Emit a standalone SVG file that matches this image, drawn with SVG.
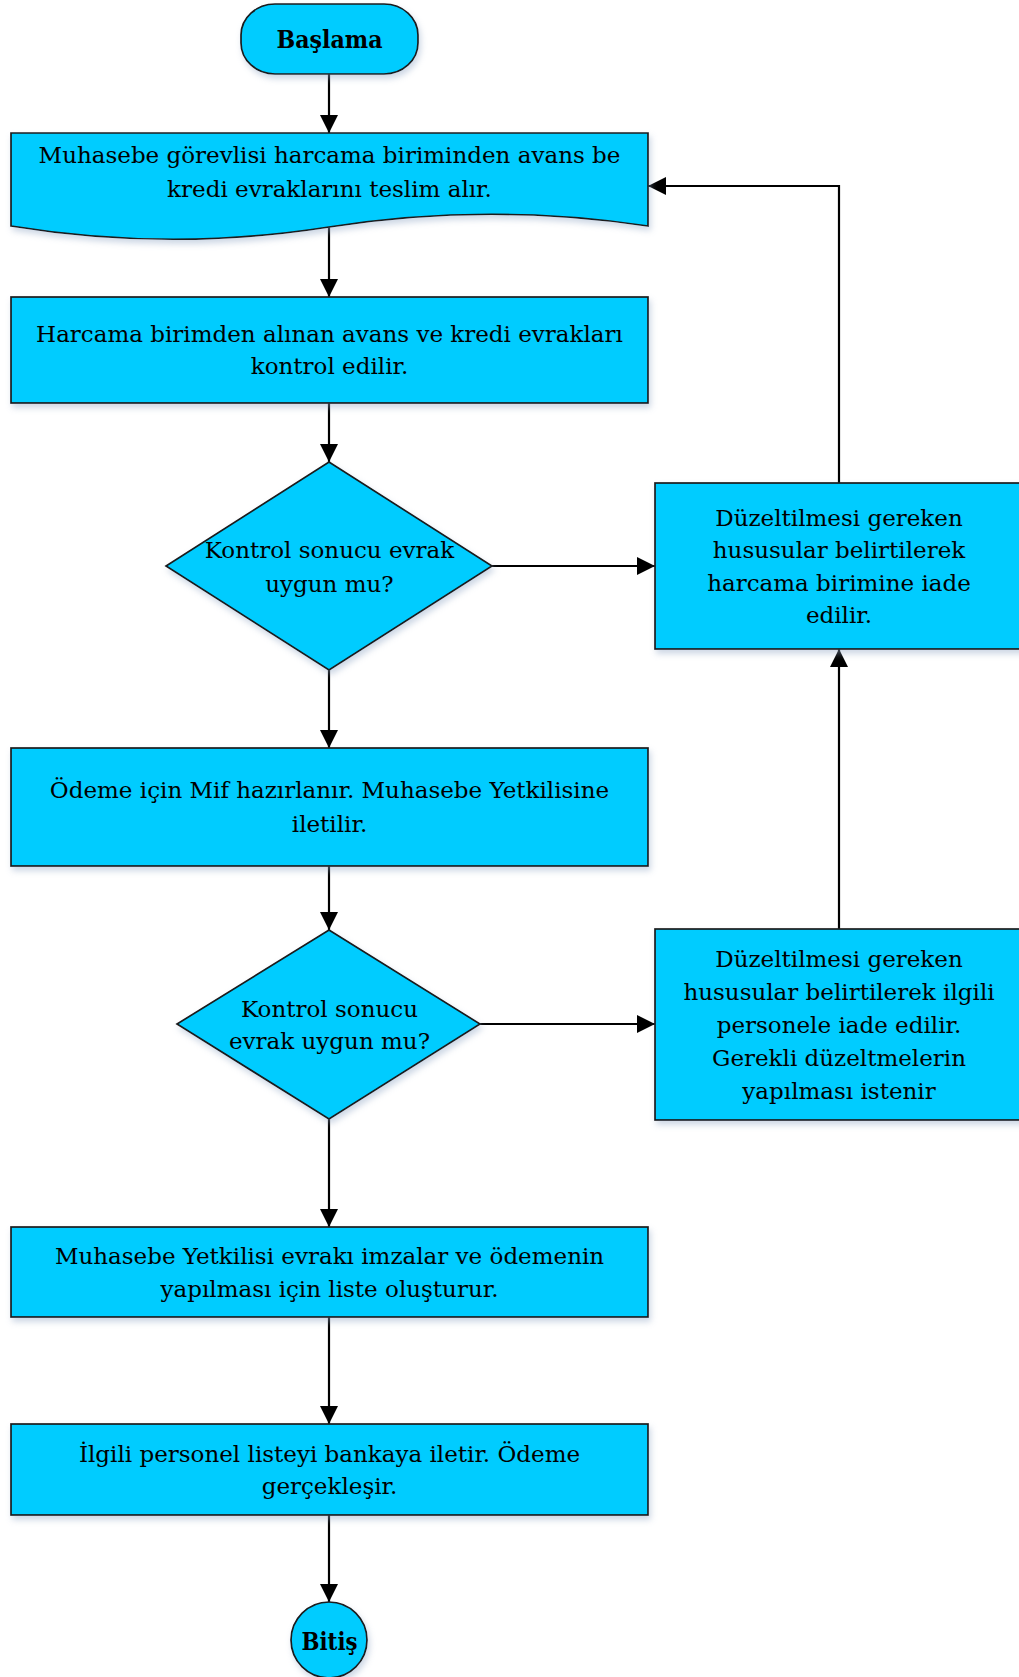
<svg xmlns="http://www.w3.org/2000/svg" width="1019" height="1677" viewBox="0 0 1019 1677">
<style>
.shape{fill:#00CCFF;stroke:#1a1a1a;stroke-width:1.7;filter:url(#sh)}
.t{font-family:"DejaVu Serif","Liberation Serif",serif;font-size:23px;fill:#000;text-anchor:middle}
.tb{font-family:"DejaVu Serif","Liberation Serif",serif;font-size:24.5px;font-weight:bold;fill:#000;text-anchor:middle}
.c{fill:none;stroke:#000;stroke-width:2.2;marker-end:url(#ah)}
</style>
<defs>
<filter id="sh" x="-10%" y="-10%" width="125%" height="130%">
<feDropShadow dx="2" dy="4" stdDeviation="3" flood-color="#8fa6c4" flood-opacity="0.45"/>
</filter>
<marker id="ah" markerUnits="userSpaceOnUse" markerWidth="18" markerHeight="18" viewBox="0 0 17 17" refX="17" refY="8.5" orient="auto">
<path d="M0,0 L17,8.5 L0,17 z" fill="#000"/>
</marker>
</defs>
<rect width="1019" height="1677" fill="#fff"/>

<g id="connectors">
<path class="c" d="M329,74 V133"/>
<path class="c" d="M329,227 V297"/>
<path class="c" d="M329,403 V462"/>
<path class="c" d="M329,670 V748"/>
<path class="c" d="M492,566 H655"/>
<path class="c" d="M839,483 V186 H648"/>
<path class="c" d="M329,866 V930"/>
<path class="c" d="M480,1024 H655"/>
<path class="c" d="M839,929 V649"/>
<path class="c" d="M329,1119 V1227"/>
<path class="c" d="M329,1317 V1424"/>
<path class="c" d="M329,1515 V1602"/>
</g>

<g id="start">
<rect class="shape" x="241" y="4" width="177" height="70" rx="34" ry="31"/>
<text class="tb" x="329.5" y="48" textLength="106" lengthAdjust="spacingAndGlyphs">Başlama</text>
</g>

<g id="doc">
<path class="shape" d="M11,133 H648 V226 Q488,202 329,227 Q170,252 11,226 Z"/>
<text class="t" x="329.5" y="163">Muhasebe görevlisi harcama biriminden avans be</text>
<text class="t" x="329.5" y="197">kredi evraklarını teslim alır.</text>
</g>

<g id="box2">
<rect class="shape" x="11" y="297" width="637" height="106"/>
<text class="t" x="329.5" y="342">Harcama birimden alınan avans ve kredi evrakları</text>
<text class="t" x="329.5" y="374">kontrol edilir.</text>
</g>

<g id="dia1">
<polygon class="shape" points="329,462 492,566 329,670 166,566"/>
<text class="t" x="329.5" y="558">Kontrol sonucu evrak</text>
<text class="t" x="329.5" y="592">uygun mu?</text>
</g>

<g id="right1">
<rect class="shape" x="655" y="483" width="370" height="166"/>
<text class="t" x="839" y="526">Düzeltilmesi gereken</text>
<text class="t" x="839" y="558">hususular belirtilerek</text>
<text class="t" x="839" y="591">harcama birimine iade</text>
<text class="t" x="839" y="623">edilir.</text>
</g>

<g id="box3">
<rect class="shape" x="11" y="748" width="637" height="118"/>
<text class="t" x="329.5" y="798">Ödeme için Mif hazırlanır. Muhasebe Yetkilisine</text>
<text class="t" x="329.5" y="832">iletilir.</text>
</g>

<g id="dia2">
<polygon class="shape" points="329,930 480,1024 329,1119 177,1024"/>
<text class="t" x="329.5" y="1017">Kontrol sonucu</text>
<text class="t" x="329.5" y="1049">evrak uygun mu?</text>
</g>

<g id="right2">
<rect class="shape" x="655" y="929" width="370" height="191"/>
<text class="t" x="839" y="967">Düzeltilmesi gereken</text>
<text class="t" x="839" y="1000">hususular belirtilerek ilgili</text>
<text class="t" x="839" y="1033">personele iade edilir.</text>
<text class="t" x="839" y="1066">Gerekli düzeltmelerin</text>
<text class="t" x="839" y="1099">yapılması istenir</text>
</g>

<g id="box4">
<rect class="shape" x="11" y="1227" width="637" height="90"/>
<text class="t" x="329.5" y="1264">Muhasebe Yetkilisi evrakı imzalar ve ödemenin</text>
<text class="t" x="329.5" y="1297">yapılması için liste oluşturur.</text>
</g>

<g id="box5">
<rect class="shape" x="11" y="1424" width="637" height="91"/>
<text class="t" x="329.5" y="1462">İlgili personel listeyi bankaya iletir. Ödeme</text>
<text class="t" x="329.5" y="1494">gerçekleşir.</text>
</g>

<g id="end">
<circle class="shape" cx="329" cy="1640" r="38"/>
<text class="tb" x="329.5" y="1650" textLength="56" lengthAdjust="spacingAndGlyphs">Bitiş</text>
</g>
</svg>
